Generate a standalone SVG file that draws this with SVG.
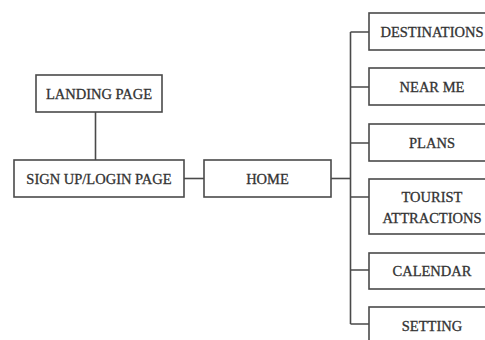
<svg xmlns="http://www.w3.org/2000/svg" width="485" height="340" viewBox="0 0 485 340">
<style>
.box{fill:#fff;stroke:#4a4a4a;stroke-width:1.6}
.ln{fill:none;stroke:#4a4a4a;stroke-width:1.6}
text{font-family:"Liberation Serif","Times New Roman",serif;font-size:14.5px;fill:#333;stroke:#333;stroke-width:0.3;text-anchor:middle}
</style>
<rect width="485" height="340" fill="#fff"/>
<g id="connectors">
<path class="ln" d="M95.5 112V160"/>
<path class="ln" d="M184 178.5H204"/>
<path class="ln" d="M331 178.5H350.5"/>
<path class="ln" d="M350.5 32V324"/>
<path class="ln" d="M350.5 32H369M350.5 87H369M350.5 143H369M350.5 197H369M350.5 270H369M350.5 324H369"/>
</g>
<g id="landing"><rect class="box" x="36" y="75" width="126" height="37"/><text x="99" y="98.5">LANDING PAGE</text></g>
<g id="signup"><rect class="box" x="14" y="160" width="170" height="37"/><text x="99" y="183.5">SIGN UP/LOGIN PAGE</text></g>
<g id="home"><rect class="box" x="204" y="160" width="127" height="37"/><text x="267.5" y="183.5">HOME</text></g>
<g id="destinations"><rect class="box" x="369" y="13" width="131" height="37"/><text x="432" y="36.5">DESTINATIONS</text></g>
<g id="nearme"><rect class="box" x="369" y="68" width="131" height="37"/><text x="432" y="91.5">NEAR ME</text></g>
<g id="plans"><rect class="box" x="369" y="124" width="131" height="37"/><text x="432" y="147.5">PLANS</text></g>
<g id="tourist"><rect class="box" x="369" y="179" width="131" height="55"/><text x="432" y="202">TOURIST</text><text x="432" y="223">ATTRACTIONS</text></g>
<g id="calendar"><rect class="box" x="369" y="253" width="131" height="36"/><text x="432" y="276">CALENDAR</text></g>
<g id="setting"><rect class="box" x="369" y="307" width="131" height="40"/><text x="432" y="330.5">SETTING</text></g>
</svg>
